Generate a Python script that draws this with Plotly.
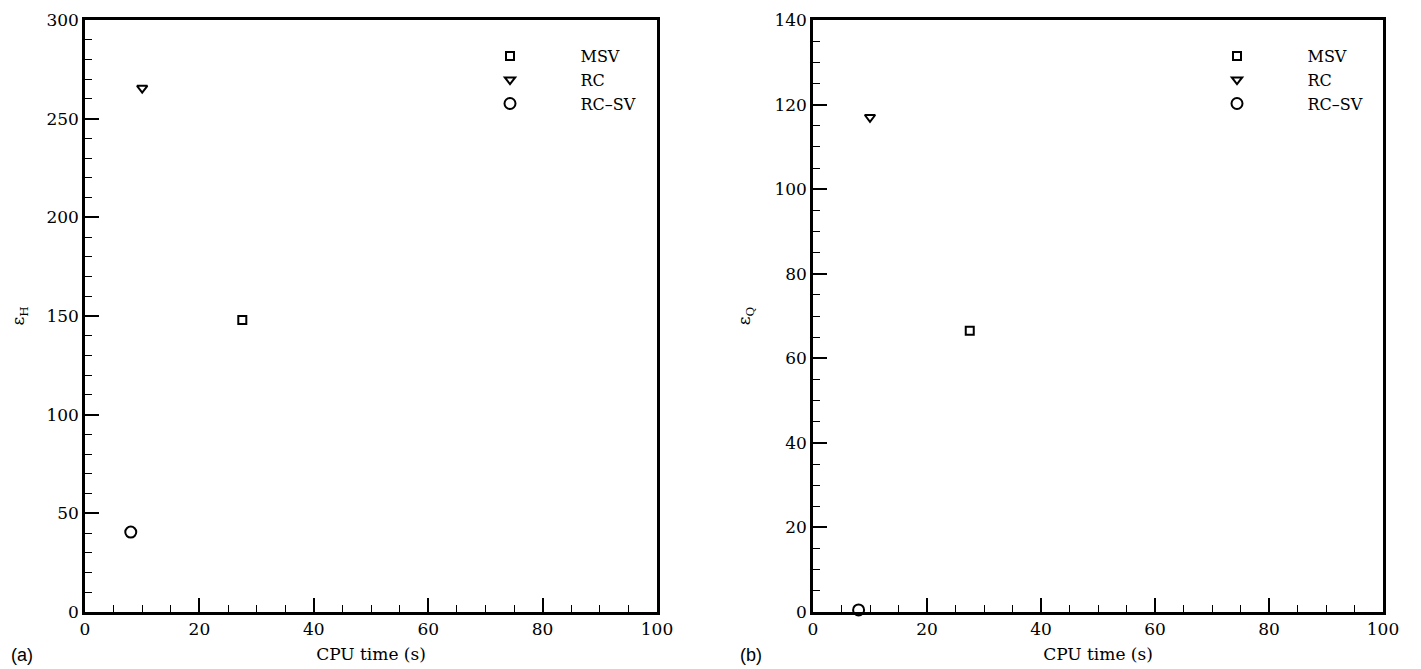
import plotly.graph_objects as go

series = ["MSV", "RC", "RC\u2013SV"]
symbols = ["square-open", "triangle-down-open", "circle-open"]
sizes = [8, 9, 11]
cpu_time = [27.5, 10.0, 8.0]
eps_H = [148.0, 265.5, 40.5]
eps_Q = [66.5, 117.0, 0.5]

W, H = 1421, 669
OFF = 8  # page body margin
L, R, T, B = 85 - OFF, W - (1383 - OFF), 20 - OFF, H - (612 - OFF)
PW, PH = W - L - R, H - T - B
font = "DejaVu Serif"
pad = "\u00a0" * 6

fig = go.Figure()
for i, name in enumerate(series):
    mk = dict(symbol=symbols[i], size=sizes[i], color="black", line=dict(width=2, color="black"))
    fig.add_trace(go.Scatter(x=[cpu_time[i]], y=[eps_H[i]], mode="markers", name=pad + name,
                             marker=mk, xaxis="x", yaxis="y", legend="legend", cliponaxis=False))
    fig.add_trace(go.Scatter(x=[cpu_time[i]], y=[eps_Q[i]], mode="markers", name=pad + name,
                             marker=mk, xaxis="x2", yaxis="y2", legend="legend2", cliponaxis=False))

def px(x):
    return (x - OFF - L) / PW

def py(y):
    return (H - B - (y - OFF)) / PH

def xax(dom, anchor):
    return dict(domain=dom, anchor=anchor, range=[0, 100], tickvals=[0, 20, 40, 60, 80, 100],
                ticks="inside", ticklen=14, tickwidth=2, tickcolor="black",
                minor=dict(dtick=5, ticks="inside", ticklen=7, tickwidth=1, tickcolor="black"),
                showline=True, linewidth=2.5, linecolor="black", mirror=True, showgrid=False,
                zeroline=False, automargin=False, tickfont=dict(family=font, size=17, color="black"),
                title=dict(text="CPU time (s)", font=dict(family=font, size=17, color="black"), standoff=10))

def yax(dom, anchor, rng, dt, mdt, title):
    return dict(domain=dom, anchor=anchor, range=rng, dtick=dt,
                ticks="inside", ticklen=14, tickwidth=2, tickcolor="black",
                minor=dict(dtick=mdt, ticks="inside", ticklen=7, tickwidth=1, tickcolor="black"),
                showline=True, linewidth=2.5, linecolor="black", mirror=True, showgrid=False,
                zeroline=False, automargin=False, tickfont=dict(family=font, size=17, color="black"),
                title=dict(text=title, font=dict(family=font, size=17, color="black"), standoff=20))

leg = dict(font=dict(family=font, size=16, color="black"), bgcolor="rgba(0,0,0,0)",
           itemwidth=70, tracegroupgap=0, yanchor="top", xanchor="left")

fig.update_layout(
    width=W, height=H, margin=dict(l=L, r=R, t=T, b=B),
    paper_bgcolor="white", plot_bgcolor="white",
    xaxis=xax([0, px(657)], "y"),
    yaxis=yax([0, 1], "x", [0, 300], 50, 10, "\u03b5<sub>H</sub>"),
    xaxis2=xax([px(813), 1], "y2"),
    yaxis2=yax([0, 1], "x2", [0, 140], 20, 5, "\u03b5<sub>Q</sub>"),
    legend=dict(x=px(470), y=py(39), **leg),
    legend2=dict(x=px(1197), y=py(39), **leg),
    annotations=[
        dict(text="(a)", x=px(9), y=py(655), xref="paper", yref="paper", showarrow=False,
             xanchor="left", yanchor="middle", font=dict(family="Liberation Sans", size=18, color="black")),
        dict(text="(b)", x=px(738), y=py(655), xref="paper", yref="paper", showarrow=False,
             xanchor="left", yanchor="middle", font=dict(family="Liberation Sans", size=18, color="black")),
    ],
)

fig.write_html("out.html")
